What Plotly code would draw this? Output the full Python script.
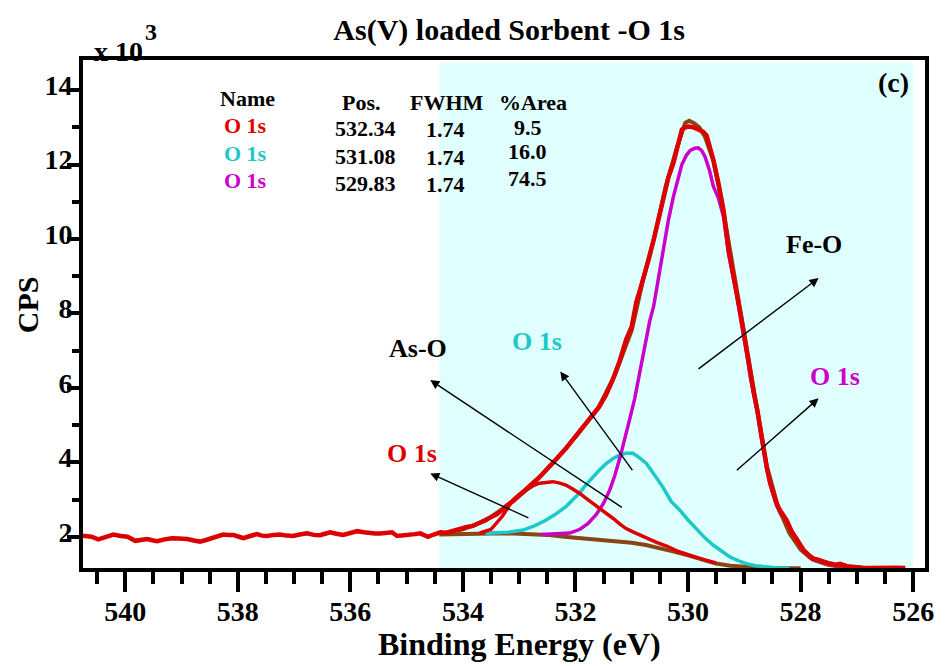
import plotly.graph_objects as go

# ---------------- data (binding energy in eV, intensity in CPS x 10^3) ----------------
raw_be = [540.75, 540.6, 540.48, 540.35, 540.21, 540.08, 539.96, 539.82, 539.72, 539.61,
          539.5, 539.43, 539.3, 539.17, 539.05, 538.9, 538.78, 538.67, 538.55, 538.45,
          538.35, 538.26, 538.16, 538.08, 537.98, 537.9, 537.78, 537.66, 537.57, 537.48,
          537.36, 537.25, 537.13, 537.02, 536.9, 536.77, 536.65, 536.54, 536.45, 536.36,
          536.25, 536.13, 536.0, 535.88, 535.76, 535.65, 535.56, 535.47, 535.36, 535.26,
          535.17, 535.05, 534.94, 534.85, 534.76, 534.68, 534.62, 534.52, 534.4, 534.29,
          534.18, 534.05, 533.93, 533.82, 533.7, 533.6, 533.52, 533.4, 533.3, 533.23,
          533.1, 533.0, 532.88, 532.76, 532.64, 532.52, 532.4, 532.29, 532.17, 532.05,
          531.93, 531.81, 531.7, 531.58, 531.46, 531.34, 531.22, 531.1, 531.0, 530.92,
          530.85, 530.79, 530.7, 530.61, 530.52, 530.43, 530.35, 530.26, 530.18, 530.11,
          530.05, 529.99, 529.9, 529.79, 529.73, 529.67, 529.6, 529.55, 529.46, 529.37,
          529.28, 529.2, 529.13, 529.07, 529.01, 528.95, 528.89, 528.83, 528.77, 528.72,
          528.66, 528.6, 528.54, 528.48, 528.43, 528.36, 528.3, 528.25, 528.16, 528.07,
          527.95, 527.85, 527.78, 527.68, 527.58, 527.48, 527.38, 527.3, 527.18, 527.05,
          526.95, 526.89, 526.75, 526.6, 526.45, 526.3, 526.14]
raw_cps = [2.03, 2.0, 1.93, 1.98, 2.06, 2.02, 2.0, 1.89, 1.92, 1.94,
           1.9, 1.88, 1.93, 1.96, 1.95, 1.94, 1.9, 1.87, 1.92, 1.96,
           2.01, 2.06, 2.05, 2.05, 2.0, 1.96, 2.02, 2.07, 2.03, 2.02,
           2.05, 2.06, 2.03, 2.02, 2.06, 2.09, 2.05, 2.04, 2.08, 2.12,
           2.08, 2.05, 2.1, 2.15, 2.12, 2.09, 2.09, 2.09, 2.1, 2.12,
           2.02, 2.03, 2.05, 2.07, 2.09, 2.03, 2.0, 2.06, 2.12, 2.11,
           2.16, 2.22, 2.26, 2.29, 2.37, 2.45, 2.52, 2.6, 2.72, 2.83,
           2.97, 3.12, 3.27, 3.44, 3.6, 3.79, 3.97, 4.15, 4.37, 4.6,
           4.82, 5.05, 5.25, 5.49, 5.8, 6.21, 6.7, 7.3, 7.65, 8.3,
           8.65, 8.95, 9.45, 9.98, 10.6, 11.23, 11.65, 12.04, 12.55, 12.94,
           13.0, 13.02, 13.0, 12.93, 12.88, 12.78, 12.45, 12.13, 11.5, 10.78,
           9.71, 9.1, 8.54, 8.0, 7.47, 6.9, 6.3, 5.85, 5.41, 4.9,
           4.33, 3.85, 3.44, 3.1, 2.9, 2.7, 2.55, 2.45, 2.15, 1.91,
           1.65, 1.5, 1.42, 1.38, 1.32, 1.28, 1.25, 1.27, 1.21, 1.18,
           1.16, 1.17, 1.16, 1.17, 1.18, 1.17, 1.16]

env_be = [534.4, 534.0, 533.6, 533.2, 532.8, 532.4, 532.0, 531.6, 531.3, 531.0,
          530.8, 530.6, 530.4, 530.2, 530.05, 529.98, 529.9, 529.8, 529.7, 529.55,
          529.4, 529.2, 529.0, 528.8, 528.6, 528.4, 528.2, 528.0, 527.8, 527.5,
          527.0, 526.5]
env_cps = [2.07, 2.2, 2.43, 2.85, 3.35, 3.98, 4.68, 5.45, 6.35, 7.55,
           8.9, 10.05, 11.4, 12.45, 13.12, 13.18, 13.12, 13.0, 12.75, 12.1,
           11.0, 9.2, 7.4, 5.6, 3.9, 2.8, 2.1, 1.65, 1.4, 1.25,
           1.17, 1.16]

bg_be = [534.42, 534.0, 533.5, 533.1, 532.8, 532.5, 532.2, 531.9, 531.6, 531.3,
         531.0, 530.75, 530.5, 530.25, 530.0, 529.75, 529.5, 529.25, 529.0, 528.7,
         528.4, 528.0]
bg_cps = [2.06, 2.08, 2.09, 2.09, 2.07, 2.05, 2.0, 1.96, 1.93, 1.89,
          1.84, 1.78, 1.7, 1.6, 1.5, 1.38, 1.28, 1.22, 1.19, 1.17,
          1.15, 1.15]

asO_be = [533.7, 533.5, 533.3, 533.11, 532.99, 532.87, 532.75, 532.64, 532.52, 532.4,
          532.28, 532.17, 532.05, 531.93, 531.81, 531.69, 531.57, 531.45, 531.33, 531.21,
          531.1, 530.98, 530.86, 530.74, 530.56, 530.38, 530.2, 530.03, 529.85, 529.67,
          529.5]
asO_cps = [2.1, 2.2, 2.55, 2.99, 3.15, 3.26, 3.37, 3.44, 3.47, 3.48,
           3.44, 3.39, 3.28, 3.17, 3.03, 2.9, 2.76, 2.63, 2.49, 2.34,
           2.22, 2.13, 2.06, 1.97, 1.85, 1.75, 1.62, 1.53, 1.44, 1.36,
           1.29]

mid_be = [533.6, 533.2, 532.93, 532.72, 532.52, 532.34, 532.17, 532.05, 531.93, 531.81,
          531.69, 531.57, 531.45, 531.33, 531.21, 531.1, 530.98, 530.86, 530.74, 530.6,
          530.45, 530.3, 530.15, 530.0, 529.85, 529.7, 529.55, 529.4, 529.25, 529.1,
          528.95, 528.8, 528.6, 528.4, 528.2]
mid_cps = [2.09, 2.12, 2.18, 2.3, 2.45, 2.62, 2.81, 2.98, 3.17, 3.4,
           3.61, 3.8, 3.97, 4.1, 4.2, 4.24, 4.24, 4.12, 3.97, 3.68,
           3.34, 2.95, 2.72, 2.45, 2.2, 1.97, 1.77, 1.6, 1.45, 1.35,
           1.27, 1.22, 1.18, 1.16, 1.15]

feO_be = [532.6, 532.3, 532.1, 531.92, 531.78, 531.63, 531.5, 531.39, 531.3, 531.21,
          531.1, 531.03, 530.95, 530.86, 530.77, 530.68, 530.61, 530.52, 530.43, 530.35,
          530.26, 530.18, 530.11, 530.03, 529.96, 529.88, 529.82, 529.76, 529.7, 529.62,
          529.55, 529.46, 529.37, 529.28, 529.2, 529.13, 529.07, 529.01, 528.95, 528.89,
          528.83, 528.77, 528.72, 528.66, 528.6, 528.54, 528.48, 528.43, 528.36, 528.3,
          528.25, 528.16, 528.07, 527.95, 527.85, 527.78, 527.68, 527.58, 527.48, 527.3,
          527.1, 526.9]
feO_cps = [2.06, 2.07, 2.1, 2.2, 2.35, 2.6, 2.9, 3.26, 3.65, 4.12,
           4.75, 5.2, 5.7, 6.4, 7.1, 7.8, 8.2, 9.0, 9.85, 10.5,
           11.14, 11.6, 12.0, 12.25, 12.38, 12.44, 12.45, 12.38, 12.22, 11.85,
           11.41, 11.1, 10.6, 9.6, 9.0, 8.45, 7.9, 7.4, 6.85, 6.25,
           5.8, 5.35, 4.85, 4.3, 3.8, 3.4, 3.05, 2.85, 2.62, 2.48,
           2.38, 2.1, 1.85, 1.6, 1.45, 1.38, 1.32, 1.27, 1.23, 1.19,
           1.17, 1.16]

x_ticks = [540, 538, 536, 534, 532, 530, 528, 526]
y_ticks = [2, 4, 6, 8, 10, 12, 14]

table_names = ["O 1s", "O 1s", "O 1s"]
table_pos = ["532.34", "531.08", "529.83"]
table_fwhm = ["1.74", "1.74", "1.74"]
table_area = ["9.5", "16.0", "74.5"]

# ---------------- styling ----------------
FONT = "Liberation Serif, Times New Roman, serif"
RED = "#DD0000"
CYAN = "#1CC8C8"
MAGENTA = "#CC00CC"
BROWN = "#8B4513"
SHADE = "#E0FFFF"

fig = go.Figure()
fig.add_trace(go.Scatter(x=bg_be, y=bg_cps, mode="lines", line=dict(color=BROWN, width=4)))
fig.add_trace(go.Scatter(x=mid_be, y=mid_cps, mode="lines", line=dict(color=CYAN, width=3.5)))
fig.add_trace(go.Scatter(x=feO_be, y=feO_cps, mode="lines", line=dict(color=MAGENTA, width=3.5)))
fig.add_trace(go.Scatter(x=asO_be, y=asO_cps, mode="lines", line=dict(color=RED, width=3.5)))
fig.add_trace(go.Scatter(x=env_be, y=env_cps, mode="lines", line=dict(color=BROWN, width=4)))
fig.add_trace(go.Scatter(x=raw_be, y=raw_cps, mode="lines", line=dict(color=RED, width=4.5)))

fig.add_shape(type="rect", xref="x", yref="paper", x0=534.42, x1=526.0, y0=0, y1=0.994,
              fillcolor=SHADE, line=dict(width=0), layer="below")

ann = []
def txt(x, y, s, size, color="black", xref="paper", yref="paper", xanchor="center", yanchor="middle", angle=0):
    ann.append(dict(x=x, y=y, xref=xref, yref=yref, text=s, showarrow=False,
                    xanchor=xanchor, yanchor=yanchor, textangle=angle,
                    font=dict(family=FONT, size=size, color=color, weight="bold")))

def arrow(x_head, y_head, x_tail, y_tail):
    ann.append(dict(x=x_head, y=y_head, ax=x_tail, ay=y_tail, xref="x", yref="y",
                    axref="x", ayref="y", text="", showarrow=True, arrowhead=2,
                    arrowsize=1.3, arrowwidth=1.4, arrowcolor="black"))

# legend table
row_y = [0.871, 0.816, 0.762]
name_colors = [RED, CYAN, MAGENTA]
txt(0.195, 0.925, "Name", 22)
txt(0.331, 0.917, "Pos.", 22)
txt(0.432, 0.917, "FWHM", 22)
txt(0.534, 0.917, "%Area", 22)
for i in range(3):
    txt(0.193, row_y[i], table_names[i], 22, name_colors[i])
    txt(0.335, row_y[i] - 0.006, table_pos[i], 22)
    txt(0.431, row_y[i] - 0.008, table_fwhm[i], 22)
    txt(0.528, row_y[i] - 0.004 + (0.008 if i else 0), table_area[i], 22)

txt(0.963, 0.955, "(c)", 28)
# multiplier
txt(0.011, 0.983, "x 10", 28, xanchor="left", yanchor="bottom")
txt(0.071, 1.025, "3", 24, xanchor="left", yanchor="bottom")

# peak labels
txt(534.79, 7.05, "As-O", 26, xref="x", yref="y")
txt(534.9, 4.25, "O 1s", 26, RED, xref="x", yref="y")
txt(532.69, 7.24, "O 1s", 26, CYAN, xref="x", yref="y")
txt(527.77, 9.84, "Fe-O", 26, xref="x", yref="y")
txt(527.39, 6.30, "O 1s", 26, MAGENTA, xref="x", yref="y")
arrow(534.58, 6.21, 531.15, 2.76)
arrow(534.58, 3.70, 532.81, 2.49)
arrow(532.27, 6.44, 530.97, 3.75)
arrow(527.68, 8.95, 529.84, 6.48)
arrow(527.68, 5.72, 529.16, 3.75)

# axis titles
txt(-0.066, 0.518, "CPS", 30, angle=-90)
txt(0.518, -0.149, "Binding Energy (eV)", 32)

fig.update_layout(
    width=950, height=666,
    margin=dict(l=83, r=25, t=60, b=98),
    paper_bgcolor="white", plot_bgcolor="white",
    showlegend=False,
    title=dict(text="As(V) loaded Sorbent -O 1s", x=0.536, xanchor="center",
               y=0.955, yanchor="middle", yref="container",
               font=dict(family=FONT, size=30, color="black", weight="bold")),
    annotations=ann,
)
fig.update_xaxes(range=[540.75, 525.79], tickvals=x_ticks, ticktext=[str(v) for v in x_ticks],
                 ticks="outside", ticklen=20, tickwidth=4, tickcolor="black",
                 showline=True, linewidth=4, linecolor="black", mirror=True,
                 showgrid=False, zeroline=False, ticklabelstandoff=-5,
                 tickfont=dict(family=FONT, size=28, color="black", weight="bold"),
                 minor=dict(dtick=0.5, tick0=0, ticks="outside", ticklen=12, tickwidth=4,
                            tickcolor="black", showgrid=False))
fig.update_yaxes(range=[1.16, 14.81], tickvals=y_ticks, ticktext=[str(v) for v in y_ticks],
                 ticks="outside", ticklen=12, tickwidth=4, tickcolor="black",
                 showline=True, linewidth=4, linecolor="black", mirror=True,
                 showgrid=False, zeroline=False, ticklabelstandoff=-11, ticklabelshift=-5,
                 tickfont=dict(family=FONT, size=28, color="black", weight="bold"),
                 minor=dict(dtick=1, tick0=0, ticks="outside", ticklen=7, tickwidth=4,
                            tickcolor="black", showgrid=False))

fig.write_html("out.html")
